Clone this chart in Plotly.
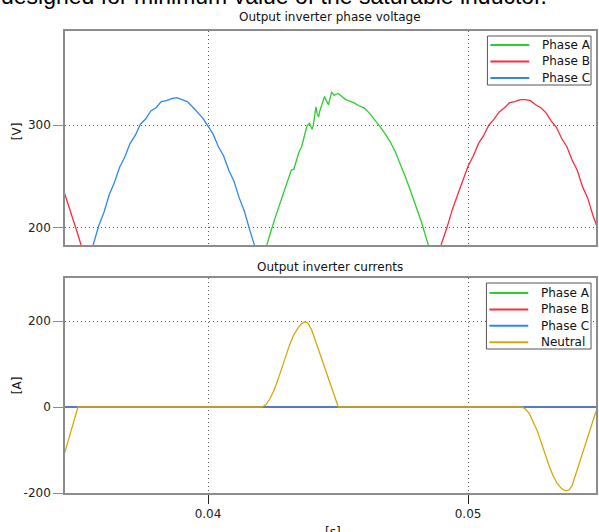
import plotly.graph_objects as go

# ---- phase voltages [V] versus time [s] ----
t_phase_a = [0.0420, 0.0422, 0.0424, 0.0426, 0.0428, 0.0430, 0.0431, 0.0432, 0.0433,
             0.0434, 0.0435, 0.0436, 0.0437, 0.0438, 0.0439, 0.0440, 0.04405, 0.0441,
             0.04415, 0.0442, 0.04425, 0.0443, 0.04435, 0.0444, 0.04448, 0.04455,
             0.04463, 0.0447, 0.04475, 0.0448, 0.04485, 0.0449, 0.0450, 0.04505,
             0.0451, 0.0452, 0.0453, 0.0454, 0.0456, 0.0458, 0.0460, 0.0462, 0.0464,
             0.0466, 0.0468, 0.0470, 0.0472, 0.0474, 0.0476, 0.0478, 0.0480, 0.0482,
             0.0484, 0.0486, 0.0488]
v_phase_a = [160, 178, 195, 211, 226, 241, 249, 256, 257,
             265, 274, 279, 290, 299, 302, 296, 300, 312,
             318, 311, 308, 314, 318, 322, 328, 324,
             320, 327, 332, 331, 329, 330, 331, 330,
             329, 327, 325, 324, 322, 319, 317, 312, 306,
             299, 292, 284, 274, 262, 249, 235, 221, 206,
             189, 172, 155]

t_phase_b = [0.0344, 0.0346, 0.0348, 0.0350, 0.0352, 0.0354, None,
             0.0486, 0.0488, 0.0490, 0.0492, 0.0494, 0.0496, 0.0498, 0.0500,
             0.0502, 0.0504, 0.0506, 0.0508, 0.0510, 0.0512, 0.0514, 0.0516,
             0.0518, 0.0520, 0.0522, 0.0524, 0.0526, 0.0528, 0.0530, 0.0532,
             0.0534, 0.0536, 0.0538, 0.0540, 0.0542, 0.0544, 0.0546, 0.0548,
             0.0550]
v_phase_b = [240, 225, 210, 193, 176, 160, None,
             150, 168, 186, 201, 218, 232, 247, 260,
             270, 282, 290, 300, 306, 313, 317, 322,
             323, 325, 325, 324, 320, 317, 312, 304,
             298, 287, 279, 266, 256, 240, 229, 212,
             198]

t_phase_c = [0.0354, 0.0356, 0.0358, 0.0360, 0.0362, 0.0364, 0.0366, 0.0368, 0.0370,
             0.0372, 0.0374, 0.0376, 0.0378, 0.0380, 0.0382, 0.0384, 0.0386, 0.0388,
             0.0390, 0.0392, 0.0394, 0.0396, 0.0398, 0.0400, 0.0402, 0.0404, 0.0406,
             0.0408, 0.0410, 0.0412, 0.0414, 0.0416, 0.0418, 0.0420]
v_phase_c = [167, 184, 202, 215, 232, 244, 259, 269, 282,
             290, 301, 306, 314, 317, 323, 324, 326, 327,
             325, 323, 318, 313, 307, 299, 291, 279, 270,
             256, 245, 229, 216, 198, 183, 165]

# ---- output currents [A] ----
t_current = [0.0344, 0.0550]
i_phase_a = [0, 0]
i_phase_b = [0, 0]
i_phase_c = [0, 0]

t_neutral = [0.0344, 0.0350, 0.04207, 0.04222, 0.04237, 0.04253, 0.04268, 0.04283,
             0.04299, 0.04314, 0.04329, 0.04345, 0.04360, 0.04371, 0.04383, 0.04398,
             0.04425, 0.04463, 0.04501, 0.05205, 0.05220, 0.05235, 0.05250, 0.05266,
             0.05281, 0.05296, 0.05312, 0.05327, 0.05342, 0.05357, 0.05367, 0.05379,
             0.05390, 0.05400, 0.05407, 0.05418, 0.05437, 0.05457, 0.05476, 0.05490,
             0.0550]
i_neutral = [-125, 0, 0, 5, 18, 38, 62, 90,
             118, 145, 167, 183, 194, 198, 196, 180,
             133, 66, 0, 0, -4, -15, -33, -55,
             -82, -110, -137, -160, -177, -188, -193, -195,
             -192, -183, -170, -150, -112, -74, -37, -14,
             0]

series_names = ["Phase A", "Phase B", "Phase C", "Neutral"]
colors = {"Phase A": "#2ecc2e", "Phase B": "#ff2a3a", "Phase C": "#2f86f0", "Neutral": "#d6a80c"}

x_ticks = [0.04, 0.05]
x_tick_text = ["0.04", "0.05"]
v_ticks = [200, 300]
v_tick_text = ["200", "300"]
i_ticks = [-200, 0, 200]
i_tick_text = ["-200", "0", "200"]

FONT = "DejaVu Sans"
W, H = 599, 532
ML, MR, MT, MB = 65, 1, 31, 39
PW, PH = W - ML - MR, H - MT - MB


def px(x):
    return (x - ML) / PW


def py(y):
    return (H - MB - y) / PH


fig = go.Figure()

line_w = 1.3
for name, t, v in [("Phase A", t_phase_a, v_phase_a),
                   ("Phase B", t_phase_b, v_phase_b),
                   ("Phase C", t_phase_c, v_phase_c)]:
    fig.add_trace(go.Scatter(x=t, y=v, mode="lines", name=name, showlegend=False,
                             line=dict(color=colors[name], width=line_w),
                             xaxis="x", yaxis="y"))

for name, t, i in [("Phase A", t_current, i_phase_a),
                   ("Phase B", t_current, i_phase_b),
                   ("Phase C", t_current, i_phase_c),
                   ("Neutral", t_neutral, i_neutral)]:
    fig.add_trace(go.Scatter(x=t, y=i, mode="lines", name=name, showlegend=False,
                             line=dict(color=colors[name], width=line_w),
                             xaxis="x2", yaxis="y2"))

axis_common = dict(showline=True, mirror=True, linecolor="#8c8c8c", linewidth=1.5,
                   showgrid=True, gridcolor="#555555", griddash="1px,3px", gridwidth=1,
                   zeroline=False, tickfont=dict(family=FONT, size=12, color="#222222"))

top_lo = py(245)
bot_hi = py(278)

fig.update_layout(
    width=W, height=H,
    margin=dict(l=ML, r=MR, t=MT, b=MB),
    paper_bgcolor="white", plot_bgcolor="white",
    showlegend=False,
    xaxis=dict(domain=[0, 1], anchor="y", range=[0.0345, 0.05492],
               tickvals=x_ticks, showticklabels=False, ticks="", **axis_common),
    yaxis=dict(domain=[top_lo, 1], anchor="x", range=[183, 392],
               tickvals=v_ticks, ticktext=v_tick_text, ticks="outside", ticklen=10,
               tickcolor="#8c8c8c", **axis_common),
    xaxis2=dict(domain=[0, 1], anchor="y2", range=[0.0345, 0.05492],
                tickvals=x_ticks, ticktext=x_tick_text, ticks="outside",
                ticklen=9, tickcolor="#222222", **axis_common),
    yaxis2=dict(domain=[0, bot_hi], anchor="x2", range=[-200, 300],
                tickvals=i_ticks, ticktext=i_tick_text, ticks="outside", ticklen=10,
                tickcolor="#8c8c8c", **axis_common),
)

annotations = []
shapes = []


def text(x, y, s, size=12, xanchor="center", angle=0, family=FONT, color="#111111"):
    annotations.append(dict(x=px(x), y=py(y), xref="paper", yref="paper", text=s,
                            showarrow=False, xanchor=xanchor, yanchor="middle",
                            textangle=angle,
                            font=dict(family=family, size=size, color=color)))


# heading line partly above the page
text(-1, -4, "designed for minimum value of the saturable inductor.", size=23,
     xanchor="left", family="Liberation Sans", color="#000000")

text(331, 17, "Output inverter phase voltage")
text(331, 267, "Output inverter currents")
text(17, 131, "[V]", angle=-90)
text(17, 385, "[A]", angle=-90)
text(334, 532, "[s]")


def legend_box(x0, y0, x1, y1, names, first_y, step):
    shapes.append(dict(type="rect", xref="paper", yref="paper",
                       x0=px(x0), x1=px(x1), y0=py(y1), y1=py(y0),
                       line=dict(color="#555555", width=1), fillcolor="white", layer="above"))
    for k, name in enumerate(names):
        yy = first_y + k * step
        shapes.append(dict(type="line", xref="paper", yref="paper",
                           x0=px(x0 + 3), x1=px(x0 + 42), y0=py(yy), y1=py(yy),
                           line=dict(color=colors[name], width=2), layer="above"))
        text(x0 + 53, yy, name, xanchor="left")


legend_box(489, 36, 593, 85, series_names[:3], 45, 16.5)
legend_box(488, 283, 593, 349, series_names, 293, 16.4)

fig.update_layout(annotations=annotations, shapes=shapes)

fig.write_html("out.html")
